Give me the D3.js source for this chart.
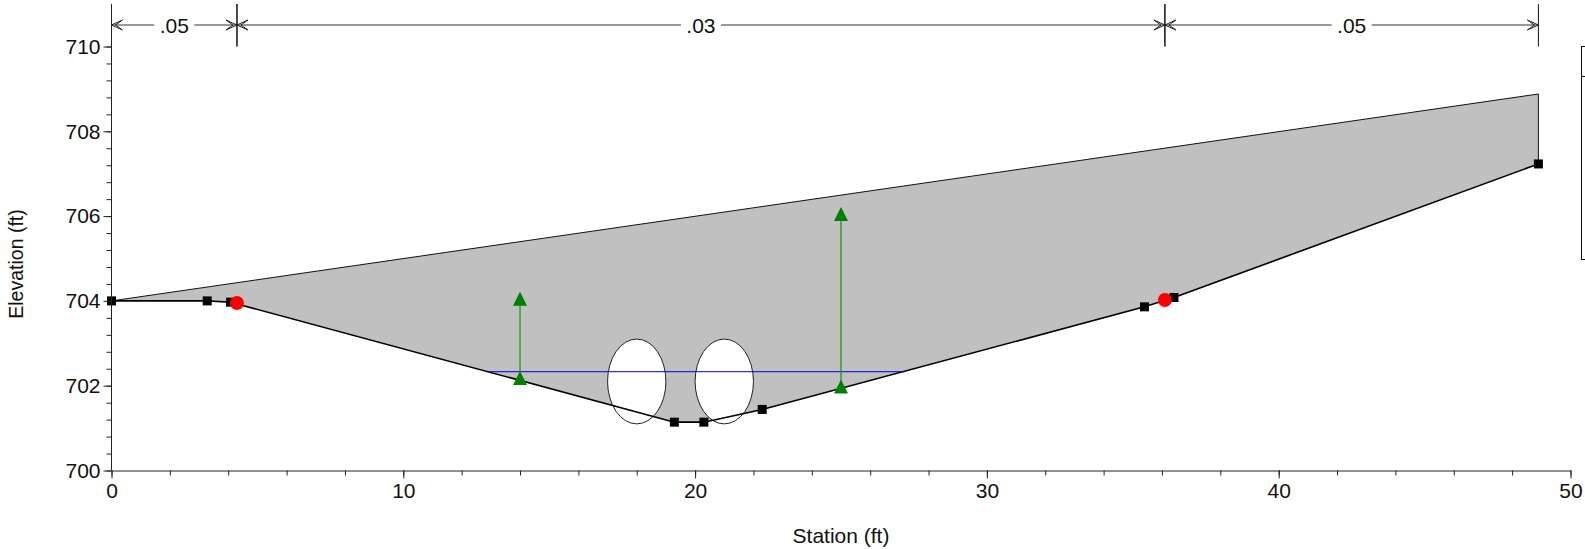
<!DOCTYPE html>
<html><head><meta charset="utf-8">
<script src="https://cdn.jsdelivr.net/npm/d3@7"></script>
<style>html,body{margin:0;padding:0;background:#fff;overflow:hidden}svg{display:block}text{font-family:"Liberation Sans",Arial,sans-serif;fill:#111}</style>
</head><body><svg id="c" width="1585" height="549"></svg>
<script>
const groundStation=[0,3.28,4.08,19.29,20.3,22.3,35.4,36.41,48.9];
const groundElevation=[704,704,703.97,701.14,701.14,701.44,703.86,704.08,707.23];
const roadStation=[0,48.9];
const roadElevation=[704,708.88];
const waterStation=[12.92,27.2];
const waterElevation=[702.33,702.33];
const bankStation=[4.3,36.1];
const bankElevation=[703.95,704.02];
const pierStation=[18,21];
const pierElevation=[702.1,702.1];
const pierWidth=2, pierHeight=2;
const leveeStation=[14,25];
const leveeBottom=[702.18,701.98];
const leveeTop=[704.05,706.05];
const nBreaks=[0,4.3,36.1,48.9];
const nLabels=[".05",".03",".05"];
const xTicks=[0,10,20,30,40,50];
const yTicks=[700,702,704,706,708,710];

const svg=d3.select("#c");
const x=d3.scaleLinear().domain([0,50]).range([111.5,1570.5]);
const y=d3.scaleLinear().domain([700,710]).range([470.5,46.5]);
const yTop=y(711), fontSize=21;

const ground=groundStation.map((s,i)=>[s,groundElevation[i]]);
const road=roadStation.map((s,i)=>[s,roadElevation[i]]);
const line=d3.line().x(d=>x(d[0])).y(d=>y(d[1]));

svg.append("path").attr("d",line(ground.concat(road.slice().reverse()))+"Z").attr("fill","#c0c0c0");
svg.append("path").attr("d",line([road[0],road[1],ground[ground.length-1]])).attr("fill","none").attr("stroke","#111").attr("stroke-width",1);
svg.append("g").selectAll("ellipse").data(pierStation).join("ellipse")
 .attr("cx",d=>x(d)).attr("cy",(d,i)=>y(pierElevation[i]))
 .attr("rx",(x(pierWidth)-x(0))/2).attr("ry",(y(0)-y(pierHeight))/2)
 .attr("fill","#fff").attr("stroke","#222").attr("stroke-width",1);
svg.append("path").attr("d",line(ground)).attr("fill","none").attr("stroke","#000").attr("stroke-width",1.6);
svg.append("path").attr("d",line(waterStation.map((s,i)=>[s,waterElevation[i]]))).attr("stroke","#0000d8").attr("stroke-width",1).attr("fill","none");
leveeStation.forEach((s,i)=>{
  svg.append("line").attr("x1",x(s)).attr("x2",x(s)).attr("y1",y(leveeBottom[i])).attr("y2",y(leveeTop[i])).attr("stroke","#1a8c1a").attr("stroke-width",1.2);
  [leveeBottom[i],leveeTop[i]].forEach(e=>svg.append("path").attr("d","M0,-7L7,7L-7,7Z").attr("transform",`translate(${x(s)},${y(e)})`).attr("fill","#008000"));
});
svg.append("g").selectAll("rect").data(ground).join("rect")
 .attr("x",d=>x(d[0])-4.5).attr("y",d=>y(d[1])-4.5).attr("width",9).attr("height",9).attr("fill","#000");
svg.append("g").selectAll("circle").data(bankStation).join("circle")
 .attr("cx",d=>x(d)).attr("cy",(d,i)=>y(bankElevation[i])).attr("r",7).attr("fill","#ff0000");

function style(g){g.selectAll("path,line").attr("stroke","#222").attr("stroke-width",1);g.selectAll("text").attr("font-size",fontSize).style("font-family",'"Liberation Sans",Arial,sans-serif').attr("fill","#111");}
const xMinor=d3.range(0,50.1,2), yMinor=d3.range(700,710.01,0.4);
svg.append("g").attr("transform",`translate(0,${y(700)})`).call(d3.axisBottom(x).tickValues(xMinor).tickSize(5).tickFormat("").tickSizeOuter(0)).call(style).select("path").remove();
svg.append("g").attr("transform",`translate(${x(0)},0)`).call(d3.axisLeft(y).tickValues(yMinor).tickSize(5).tickFormat("").tickSizeOuter(0)).call(style).select("path").remove();
svg.append("g").attr("transform",`translate(0,${y(700)})`).call(d3.axisBottom(x).tickValues(xTicks).tickSize(8).tickPadding(5).tickSizeOuter(0)).call(style);
const ya=svg.append("g").attr("transform",`translate(${x(0)},0)`).call(d3.axisLeft(y).tickValues(yTicks).tickSize(8).tickPadding(3).tickFormat(d3.format("d")).tickSizeOuter(0)).call(style);
ya.select("path").attr("d",`M0,${yTop}V${y(700)}`);

svg.append("text").attr("x",841).attr("y",543).attr("text-anchor","middle").attr("font-size",21).text("Station (ft)");
svg.append("text").attr("transform",`translate(23,264) rotate(-90)`).attr("text-anchor","middle").attr("font-size",19.5).text("Elevation (ft)");

const barY=25, barBottom=y(710);
nBreaks.forEach((s,i)=>{ if(i>0) svg.append("line").attr("x1",x(s)).attr("x2",x(s)).attr("y1",yTop).attr("y2",barBottom).attr("stroke","#111").attr("stroke-width",i===3?1:1.5);});
nLabels.forEach((t,i)=>{
  const a=x(nBreaks[i]), b=x(nBreaks[i+1]), m=(a+b)/2;
  svg.append("line").attr("x1",a).attr("x2",b).attr("y1",barY).attr("y2",barY).attr("stroke","#333").attr("stroke-width",1);
  svg.append("path").attr("fill","none").attr("stroke","#222").attr("stroke-width",1)
   .attr("d",`M${a+11},${barY-5}L${a},${barY}L${a+11},${barY+5}L${a+4},${barY}Z M${b-11},${barY-5}L${b},${barY}L${b-11},${barY+5}L${b-4},${barY}Z`);
  svg.append("rect").attr("x",m-20).attr("y",barY-11).attr("width",40).attr("height",22).attr("fill","#fff");
  svg.append("text").attr("x",m).attr("y",barY+8).attr("text-anchor","middle").attr("font-size",fontSize).text(t);
});
svg.append("rect").attr("x",1581.5).attr("y",46.5).attr("width",30).attr("height",213).attr("fill","#fff").attr("stroke","#111").attr("stroke-width",1);
svg.append("line").attr("x1",1581.5).attr("x2",1585).attr("y1",76.5).attr("y2",76.5).attr("stroke","#111");
</script></body></html>
